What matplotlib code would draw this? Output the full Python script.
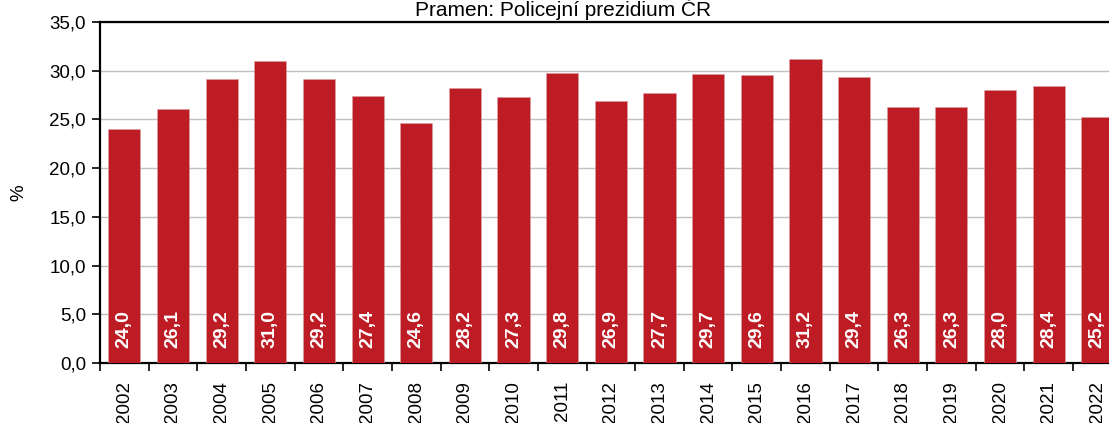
import matplotlib
matplotlib.use("Agg")
import matplotlib.pyplot as plt
from matplotlib.ticker import FixedLocator, FuncFormatter

years = [str(y) for y in range(2002, 2023)]
values = [24.0, 26.1, 29.2, 31.0, 29.2, 27.4, 24.6, 28.2, 27.3, 29.8, 26.9,
          27.7, 29.7, 29.6, 31.2, 29.4, 26.3, 26.3, 28.0, 28.4, 25.2]
title = "Pramen: Policejní prezidium ČR"
ylabel = "%"

plt.rcParams['font.family'] = ['Liberation Sans', 'DejaVu Sans']

W, H = 1109, 423
fig = plt.figure(figsize=(W / 100, H / 100), dpi=100)
ax = fig.add_axes([100 / W, 60 / H, 1021.7 / W, 341 / H])

x = list(range(len(years)))
ax.bar(x, values, width=0.66, color='#BE1C24', edgecolor='#D9A0A3', linewidth=0.4, zorder=3)

for xi, v in zip(x, values):
    ax.text(xi, 1.55, f"{v:.1f}".replace('.', ','), rotation=90, ha='center', va='bottom',
            color='white', fontsize=14, fontweight='bold', zorder=4)

ax.set_xlim(-0.5, len(years) - 0.5)
ax.set_ylim(0, 35)
ax.set_yticks([0, 5, 10, 15, 20, 25, 30, 35])
ax.yaxis.set_major_formatter(FuncFormatter(lambda v, p: f"{v:.1f}".replace('.', ',')))
ax.set_xticks(x)
ax.set_xticklabels(years, rotation=90, fontsize=13.5)
ax.xaxis.set_minor_locator(FixedLocator([i - 0.5 for i in range(len(years) + 1)]))
ax.tick_params(axis='x', which='major', length=0, pad=13)
ax.tick_params(axis='x', which='minor', length=6, width=1.2, color='black')
ax.tick_params(axis='y', which='major', length=6, width=1.2, labelsize=13.5, pad=4)

ax.grid(axis='y', color='#BFBFBF', linewidth=1.0, zorder=0)
ax.set_axisbelow(True)
for s in ['left', 'bottom', 'top', 'right']:
    ax.spines[s].set_linewidth(1.6)
    ax.spines[s].set_color('black')

ax.set_ylabel(ylabel, fontsize=13.5, labelpad=16)

fig.text(0.508, 1 - 15.5 / H, title, ha='center', va='baseline', fontsize=15)

fig.savefig("out.png", dpi=100)
